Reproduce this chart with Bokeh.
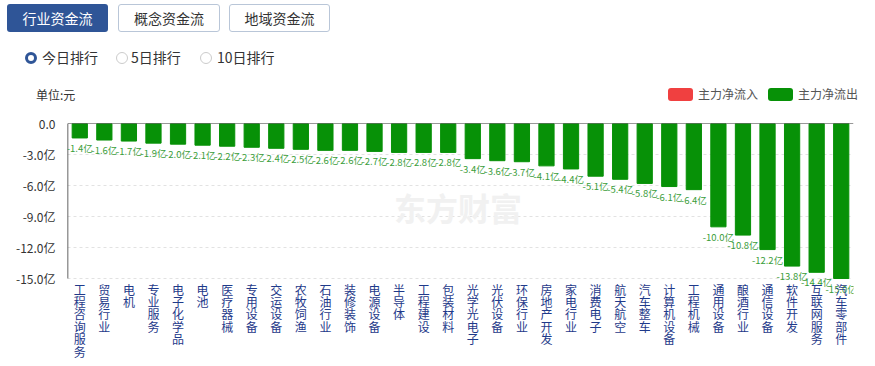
from bokeh.plotting import figure
from bokeh.models import (FactorRange, Range1d, FixedTicker, Span, Label, LabelSet, Div,
                          ColumnDataSource)
from bokeh.layouts import column
from bokeh.embed import file_html
from bokeh.resources import INLINE
from bokeh.core.properties import value

categories = ["工程咨询服务", "贸易行业", "电机", "专业服务", "电子化学品", "电池", "医疗器械",
              "专用设备", "交运设备", "农牧饲渔", "石油行业", "装修装饰", "电源设备", "半导体",
              "工程建设", "包装材料", "光学光电子", "光伏设备", "环保行业", "房地产开发", "家电行业",
              "消费电子", "航天航空", "汽车整车", "计算机设备", "工程机械", "通用设备", "酿酒行业",
              "通信设备", "软件开发", "互联网服务", "汽车零部件"]
net_flow = [-1.4, -1.6, -1.7, -1.9, -2.0, -2.1, -2.2, -2.3, -2.4, -2.5, -2.6, -2.6, -2.7, -2.8,
            -2.8, -2.8, -3.4, -3.6, -3.7, -4.1, -4.4, -5.1, -5.4, -5.8, -6.1, -6.4, -10.0, -10.8,
            -12.2, -13.8, -14.4, -15.0]
y_ticks = [0, -3, -6, -9, -12, -15]
y_tick_labels = ["0.0", "-3.0亿", "-6.0亿", "-9.0亿", "-12.0亿", "-15.0亿"]

FONT = "Noto Sans CJK SC"
GREEN = "#079107"
Y_MIN = -15
AXIS_PX = 155          # pixel height of the 0 .. -15 value axis
FRAME_PX = 243         # frame extended downward to hold the vertical category labels

src = ColumnDataSource(dict(
    cat=categories,
    val=net_flow,
    lab=["%.1f亿" % v for v in net_flow],
))

# one row per character of the vertical category labels
char_cat, char_txt, char_off = [], [], []
for c in categories:
    for i, ch in enumerate(c):
        char_cat.append(c)
        char_txt.append(ch)
        char_off.append(-(2 + 12.4 * i))
char_src = ColumnDataSource(dict(cat=char_cat, ch=char_txt, off=char_off,
                                 base=[Y_MIN] * len(char_cat)))

p = figure(x_range=FactorRange(*categories, range_padding=0),
           y_range=Range1d(Y_MIN * FRAME_PX / AXIS_PX, 0),
           width=875, height=253, output_backend="svg", toolbar_location=None,
           min_border_left=67, min_border_right=22, min_border_top=10, min_border_bottom=0)
p.outline_line_color = None
p.margin = (0, 0, 0, 0)

wm = Label(x=15.9, y=-8.1, text="东方财富", text_align="center", text_baseline="middle",
           text_font_size="32px", text_font_style="bold", text_color="#f1f1f1",
           text_font=FONT, level="underlay")
p.add_layout(wm)

p.vbar(x="cat", top=0, bottom="val", width=0.62, source=src, color=GREEN)

p.add_layout(LabelSet(x="cat", y="val", text="lab", source=src, y_offset=-3,
                      text_align="center", text_baseline="top", text_font_size="9.5px",
                      text_color="#3a9d3a", text_font=value(FONT)))
p.add_layout(LabelSet(x="cat", y="base", text="ch", y_offset="off", source=char_src,
                      text_align="center", text_baseline="top", text_font_size="12px",
                      text_color="#1f3a8a", text_font=value(FONT)))

p.add_layout(Span(location=0, dimension="width", line_color="#333333", line_width=1))
# value-axis line only over the 0 .. -15 span
p.segment(x0=[0], y0=[0], x1=[0], y1=[Y_MIN], line_color="#333333", line_width=1.5)

p.yaxis.ticker = FixedTicker(ticks=y_ticks)
p.yaxis.major_label_overrides = {t: l for t, l in zip(y_ticks, y_tick_labels)}
p.yaxis.major_tick_line_color = None
p.yaxis.minor_tick_line_color = None
p.yaxis.axis_line_color = None
p.yaxis.major_label_text_font = FONT
p.yaxis.major_label_text_font_size = "12px"
p.yaxis.major_label_text_color = "#333333"
p.yaxis.major_label_standoff = 6

p.xaxis.visible = False

p.xgrid.grid_line_color = None
p.ygrid.grid_line_color = "#e2e2e2"
p.ygrid.grid_line_dash = "3 3"

html = f"""
<div style="position:relative;width:875px;height:113px;font-family:'{FONT}';">
  <div style="position:absolute;box-sizing:border-box;left:7px;top:4px;width:101px;height:28px;background:#2f5597;border-radius:3px;color:#fff;font-size:14px;line-height:28px;text-align:center;">行业资金流</div>
  <div style="position:absolute;box-sizing:border-box;left:118px;top:4px;width:102px;height:28px;border:1px solid #b9c6d8;border-radius:3px;color:#333;font-size:14px;line-height:26px;text-align:center;">概念资金流</div>
  <div style="position:absolute;box-sizing:border-box;left:229px;top:4px;width:101px;height:28px;border:1px solid #b9c6d8;border-radius:3px;color:#333;font-size:14px;line-height:26px;text-align:center;">地域资金流</div>
  <div style="position:absolute;box-sizing:border-box;left:25px;top:52px;width:12px;height:12px;border:3.5px solid #2f5597;border-radius:50%;"></div>
  <div style="position:absolute;left:42px;top:47px;font-size:14px;color:#333;line-height:20px;">今日排行</div>
  <div style="position:absolute;box-sizing:border-box;left:116px;top:52px;width:12px;height:12px;border:1px solid #cccccc;border-radius:50%;"></div>
  <div style="position:absolute;left:131px;top:47px;font-size:14px;color:#333;line-height:20px;">5日排行</div>
  <div style="position:absolute;box-sizing:border-box;left:200px;top:52px;width:12px;height:12px;border:1px solid #cccccc;border-radius:50%;"></div>
  <div style="position:absolute;left:217px;top:47px;font-size:14px;color:#333;line-height:20px;">10日排行</div>
  <div style="position:absolute;left:36px;top:87px;font-size:12px;color:#333;line-height:16px;">单位:元</div>
  <div style="position:absolute;left:668px;top:88px;width:25px;height:13px;background:#f04040;border-radius:3px;"></div>
  <div style="position:absolute;left:698px;top:86px;font-size:12px;color:#555;line-height:16px;">主力净流入</div>
  <div style="position:absolute;left:768px;top:88px;width:25px;height:13px;background:{GREEN};border-radius:3px;"></div>
  <div style="position:absolute;left:798px;top:86px;font-size:12px;color:#555;line-height:16px;">主力净流出</div>
</div>
"""
header = Div(text=html, width=875, height=113, margin=(0, 0, 0, 0))

layout = column(header, p, spacing=0)
open("out.html", "w").write(file_html(layout, INLINE))
